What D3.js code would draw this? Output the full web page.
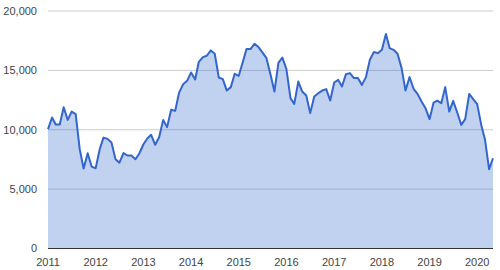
<!DOCTYPE html>
<html>
<head>
<meta charset="utf-8">
<script src="https://cdn.jsdelivr.net/npm/d3@7"></script>
<style>
  body { margin: 0; background: #fff; }
  text { font-family: "Liberation Sans", Arial, sans-serif; }
</style>
</head>
<body>
<svg id="chart" width="500" height="270"></svg>
<script>
// monthly values, Jan 2011 .. May 2020
var startMonth = [2011, 0];
var values = [
  10050, 11030, 10440, 10440, 11900, 10830, 11530, 11310, 8360, 6730, 8020, 6900,
  6760, 8360, 9340, 9230, 8920, 7520, 7230, 8040, 7830, 7830, 7520, 8020,
  8780, 9290, 9570, 8730, 9370, 10830, 10220, 11680, 11590, 13130, 13840, 14120,
  14820, 14230, 15720, 16120, 16230, 16680, 16400, 14400, 14260, 13300, 13590, 14710,
  14540, 15700, 16790, 16790, 17240, 16960, 16510, 16030, 14650, 13220, 15660, 16080,
  15100, 12660, 12180, 14060, 13220, 12880, 11400, 12800, 13080, 13300, 13420, 12460,
  13980, 14200, 13640, 14680, 14770, 14350, 14350, 13780, 14430, 15890, 16540, 16450,
  16730, 18060, 16880, 16730, 16400, 15190, 13300, 14430, 13450, 13020, 12380, 11820,
  10890, 12290, 12460, 12240, 13590, 11530, 12430, 11450, 10410, 10890, 13020, 12580,
  12160, 10410, 9150, 6680, 7600
];
var yTicks = [0, 5000, 10000, 15000, 20000];
var xYears = [2011, 2012, 2013, 2014, 2015, 2016, 2017, 2018, 2019, 2020];

var data = values.map(function(v, i){
  return {date: new Date(startMonth[0], startMonth[1] + i, 1), value: v};
});

var svg = d3.select("#chart");
var plot = {left: 48, right: 493, top: 11, bottom: 248.5};

var x = d3.scaleTime()
  .domain(d3.extent(data, function(d){ return d.date; }))
  .range([plot.left, plot.right]);
var y = d3.scaleLinear().domain([0, 20000]).range([plot.bottom, plot.top]);

// gridlines
svg.append("g").selectAll("line")
  .data(yTicks.filter(function(t){ return t > 0; }))
  .join("line")
  .attr("x1", plot.left).attr("x2", plot.right)
  .attr("y1", function(d){ return y(d); })
  .attr("y2", function(d){ return y(d); })
  .style("stroke", "#cccccc")
  .style("stroke-width", 1);

// area + line
var area = d3.area()
  .x(function(d){ return x(d.date); })
  .y0(y(0))
  .y1(function(d){ return y(d.value); });
var line = d3.line()
  .x(function(d){ return x(d.date); })
  .y(function(d){ return y(d.value); });

svg.append("path")
  .datum(data)
  .attr("d", area)
  .style("fill", "#3366cc")
  .style("fill-opacity", 0.3);

svg.append("path")
  .datum(data)
  .attr("d", line)
  .style("fill", "none")
  .style("stroke", "#3366cc")
  .style("stroke-width", 2)
  .style("stroke-linejoin", "round");

// baseline
svg.append("line")
  .attr("x1", plot.left).attr("x2", plot.right)
  .attr("y1", y(0)).attr("y2", y(0))
  .style("stroke", "#333333")
  .style("stroke-width", 1);

// y labels
svg.append("g").selectAll("text")
  .data(yTicks)
  .join("text")
  .attr("x", 37)
  .attr("y", function(d){ return y(d); })
  .attr("dy", "0.35em")
  .attr("text-anchor", "end")
  .style("font-size", "11px")
  .style("fill", "#444444")
  .text(function(d){ return d3.format(",")(d); });

// x labels
svg.append("g").selectAll("text")
  .data(xYears)
  .join("text")
  .attr("x", function(d){ return x(new Date(d, 0, 1)); })
  .attr("y", 262)
  .attr("dy", "0.35em")
  .attr("text-anchor", "middle")
  .style("font-size", "11px")
  .style("fill", "#444444")
  .text(function(d){ return d; });
</script>
</body>
</html>
